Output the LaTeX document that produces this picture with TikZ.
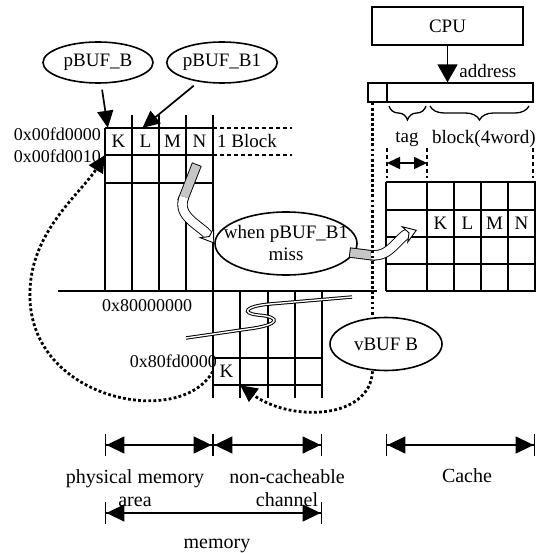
\documentclass[tikz,border=0pt]{standalone}
\usepackage{fontspec}
\setmainfont{Liberation Serif}
\usetikzlibrary{arrows.meta,positioning,calc,shapes.geometric,decorations.pathreplacing}

\begin{document}
\begin{tikzpicture}[x=1pt,y=-1pt,font=\fontsize{19}{23}\selectfont,
  grid/.style={line width=1.7pt},
  bubble/.style={draw,ellipse,line width=1.6pt,inner sep=0pt},
  cell/.style={minimum width=27pt,minimum height=27pt,inner sep=0pt},
  hex/.style={font=\fontsize{18}{20}\selectfont,inner sep=0pt},
  tri/.style={-{Triangle[length=17pt,width=16pt]},line width=1.7pt},
  dots/.style={line width=2.8pt,dash pattern=on 2.8pt off 2.3pt},
  fat/.style={line width=0.9pt,double distance=8.5pt},
  fattip/.style={-{Stealth[length=14pt,width=19pt,inset=5pt,fill=white,line width=0.9pt]}},
  tick/.style={dash pattern=on 4pt off 3pt,line width=1.3pt},
  dim/.style={line width=1.4pt,{Bar[width=22pt]Triangle[length=18pt,width=17pt]}-{Triangle[length=18pt,width=17pt]Bar[width=22pt]}}]

\useasboundingbox (0,0) rectangle (536,553);

% ---------------- physical memory area --------------------------------------
\draw[grid] (105,128) -- (105,291);
\foreach \x in {132,159,186} \draw[grid] (\x,115) -- (\x,291);
\draw[grid] (213,115) -- (213,398);
\foreach \y in {128,155,183} \draw[grid] (105,\y) -- (213,\y);
\draw[grid] (58,291) -- (377,291);
\draw[tick] (213,128) -- (292,128) (213,155) -- (292,155);
\node (blk1) at (247,141.5) {1 Block};
\foreach \n/\t [count=\i] in {kP/K,lP/L,mP/M,nP/N}
  \node[cell] (\n) at (91.5+27*\i,141.5) {\t};

\node[hex,anchor=east] (a0) at (101,134) {0x00fd0000};
\node[hex,anchor=east] (a1) at (101,156) {0x00fd0010};
\node[hex] (a2) at (147,306) {0x80000000};

% ---------------- non-cacheable channel -------------------------------------
\foreach \x in {240,268,295,322} \draw[grid] (\x,291) -- (\x,398);
\foreach \y in {358,385} \draw[grid] (213,\y) -- (322,\y);
\node[cell] (kN) at (226.5,371.5) {K};
\node[hex,anchor=east] (a3) at (217,361) {0x80fd0000};
\draw[line width=1pt,double,double distance=1.4pt] (186,338) -- (248,329)
  .. controls (280,325) and (282,317) .. (258,315)
  .. controls (240,313) and (246,306) .. (270,304) -- (352,297);

% ---------------- CPU, address and cache ------------------------------------
\node[draw,line width=1.5pt,minimum width=151pt,minimum height=38pt] (cpu) at (447.5,26) {CPU};
\node[draw,line width=1.3pt,minimum width=19pt,minimum height=19pt,inner sep=0pt] (addrL) at (377.5,92.5) {};
\node[draw,line width=1.3pt,minimum width=146pt,minimum height=19pt,inner sep=0pt] (addrR) at (460,92.5) {};
\draw[-{Triangle[length=18pt,width=20pt]},line width=1.7pt] (cpu) -- (cpu.south |- addrR.north)
  node[pos=0.7,right=11pt,inner sep=0pt] {address};

\draw[line width=1.3pt,decorate,decoration={brace,mirror,amplitude=14pt}] (389,106) -- (426,106);
\draw[line width=1.3pt,decorate,decoration={brace,mirror,amplitude=14pt}] (430,106) -- (529,106);
\node (tag) at (407,139) {tag};
\node[anchor=west,inner sep=0pt] (blk4) at (432,139) {block(4word)};

\foreach \x in {387,427,533} \draw[tick] (\x,148) -- (\x,178);
\coordinate (tagL) at (387,163);
\coordinate (tagR) at (427,163);
\draw[line width=1.6pt,{Triangle[length=13pt,width=12pt]}-{Triangle[length=13pt,width=12pt]}] (tagL) -- (tagR);

\foreach \x in {386,427,454,481,508,535} \draw[grid] (\x,182) -- (\x,291);
\foreach \y in {182,210,237,264,291} \draw[grid] (386,\y) -- (536,\y);
\foreach \n/\t [count=\i] in {kC/K,lC/L,mC/M,nC/N}
  \node[cell] (\n) at (413.5+27*\i,223.5) {\t};
\coordinate (cin) at (417,230);

% ---------------- buffers ---------------------------------------------------
\node[bubble,minimum width=110pt,minimum height=41pt] (pbufB) at (98,62.5) {pBUF\_B};
\node[bubble,minimum width=110pt,minimum height=41pt] (pbufB1) at (222,62.5) {pBUF\_B1};
\node[bubble,minimum width=142pt,minimum height=63pt,
  label={[align=center,inner sep=0pt,font=\fontsize{19}{22}\selectfont]center:when pBUF\_B1\\miss}] (miss) at (286,243.5) {};
\node[bubble,minimum width=112pt,minimum height=53pt] (vbuf) at (386,344) {vBUF B};

\draw[tri,shorten <=6pt] (pbufB) -- ([xshift=3pt]kP.north west);
\draw[tri,shorten <=6pt] (pbufB1) -- ([xshift=-3pt]lP.north);

% ---------------- block moves on a miss ------------------------------------
\coordinate (blk) at (195,169);
\draw[fat,double=gray!45,line cap=rect] (blk) -- ++(-11,28) coordinate (blkm);
\draw[fat,double=white,fattip] (blkm) to[out=248,in=125] (miss.west);
\draw[fat,double=gray!45,line cap=rect] (miss.-8) -- ++(16,2) coordinate (missm);
\draw[fat,double=white,fattip] (missm) to[out=-7,in=200] (cin);

% ---------------- virtual address path (dotted) ----------------------------
\coordinate (tagx) at ($(addrL.south)+(-5,0)$);
\draw[dots] (tagx) -- (tagx |- vbuf.north);
\draw[dots,-{Triangle[length=17pt,width=16pt]}] (vbuf.south -| tagx)
  .. controls (370,420) and (290,422) .. (kN.south east);
\draw[dots,-{Triangle[length=17pt,width=16pt]}] (kN.west)
  .. controls (180,430) and (25,400) .. (30,290)
  .. controls (32,230) and (82,192) .. (kP.south west);

% ---------------- extents ---------------------------------------------------
\coordinate (pmL) at (105,445);
\coordinate (pmR) at (213,445);
\coordinate (ncR) at (322,445);
\coordinate (caL) at (386,445);
\coordinate (caR) at (535,445);
\coordinate (meL) at (105,513);
\coordinate (meR) at (322,513);
\draw[dim] (pmL) -- (pmR);
\draw[dim] (pmR) -- (ncR);
\draw[dim] (caL) -- (caR);
\draw[dim] (meL) -- (meR);
\node[align=center,font=\fontsize{20}{23}\selectfont] (pmT) at (135,488) {physical memory\\area};
\node[align=center,font=\fontsize{20}{23}\selectfont] (ncT) at (287,488) {non-cacheable\\channel};
\node[font=\fontsize{20}{23}\selectfont] (caT) at (467,476) {Cache};
\node[font=\fontsize{20}{23}\selectfont] (meT) at (217,546) {memory};

\end{tikzpicture}
\end{document}
